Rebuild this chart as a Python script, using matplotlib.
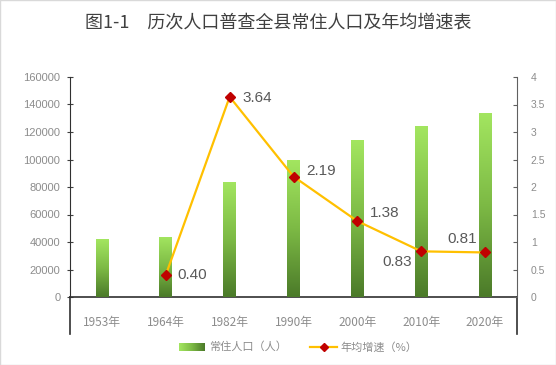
import numpy as np
import matplotlib
matplotlib.use('Agg')
import matplotlib.pyplot as plt
from matplotlib.colors import LinearSegmentedColormap
from matplotlib.patches import Rectangle

plt.rcParams['font.family'] = ['Noto Sans CJK SC', 'DejaVu Sans']

# data
years = ['1953年', '1964年', '1982年', '1990年', '2000年', '2010年', '2020年']
population = [42000, 44000, 84000, 100000, 114000, 124000, 134000]
growth_years = ['1964年', '1982年', '1990年', '2000年', '2010年', '2020年']
growth = [0.40, 3.64, 2.19, 1.38, 0.83, 0.81]
growth_labels = ['0.40', '3.64', '2.19', '1.38', '0.83', '0.81']

W, H = 556, 365
fig = plt.figure(figsize=(W / 100, H / 100), dpi=100)


def fx(x):
    return x / W


def fy(y):
    return 1 - y / H


ax = fig.add_axes([fx(70), fy(297), fx(517) - fx(70), fy(77) - fy(297)])
ax2 = ax.twinx()

green = LinearSegmentedColormap.from_list('g', ['#4b7a29', '#7dba45', '#a3e660'])
grad = np.linspace(0, 1, 256).reshape(-1, 1)

x = np.arange(len(years))
bars = ax.bar(x, population, width=0.2, color='#78b443', zorder=2)
for b in bars:
    im = ax.imshow(grad, cmap=green, origin='lower', aspect='auto',
                   extent=[b.get_x(), b.get_x() + b.get_width(), 0, b.get_height()],
                   zorder=3)
    im.set_clip_path(b)

ax.set_xlim(-0.5, len(years) - 0.5)
ax.set_ylim(0, 160000)
ax.set_yticks(np.arange(0, 160001, 20000))
ax.set_xticks(x)
ax.set_xticklabels(years, fontsize=8.5, color='#8c8c8c')
ax.tick_params(axis='x', length=0, pad=14)
ax.tick_params(axis='y', direction='inout', length=4, width=0.8, color='#404040',
               labelsize=8, labelcolor='#8c8c8c', pad=5)
for lab in ax.get_yticklabels():
    lab.set_family('Liberation Sans')
ax.spines['top'].set_visible(False)
ax.spines['right'].set_visible(False)
ax.spines['left'].set_color('#303030')
ax.spines['bottom'].set_color('#303030')
ax.spines['bottom'].set_linewidth(1.2)

# long category tick marks at both ends
for xx in (0, 1):
    ax.plot([xx, xx], [0, -37 / 220], transform=ax.transAxes, color='#303030',
            lw=1.2, clip_on=False)

xi = [years.index(y) for y in growth_years]
ax2.plot(xi, growth, color='#ffc000', lw=1.6, marker='D', markersize=5,
         markerfacecolor='#c00000', markeredgecolor='#c00000', zorder=5)
ax2.set_ylim(0, 4)
ax2.set_yticks(np.arange(0, 4.01, 0.5))
ax2.set_yticklabels(['%g' % v for v in np.arange(0, 4.01, 0.5)])
ax2.tick_params(axis='y', direction='in', length=3, width=0.8, color='#606060',
                labelsize=7.5, labelcolor='#8c8c8c', pad=10)
for lab in ax2.get_yticklabels():
    lab.set_family('Liberation Sans')
for s in ('top', 'left', 'bottom'):
    ax2.spines[s].set_visible(False)
ax2.spines['right'].set_color('#606060')

offsets = [(12, 0, 'left'), (13, -1, 'left'), (13, 6, 'left'),
           (27, 8, 'center'), (-24, -11, 'center'), (-23, 13, 'center')]
for xv, yv, txt, (dx, dy, ha) in zip(xi, growth, growth_labels, offsets):
    ax2.annotate(txt, (xv, yv), xytext=(dx, dy), textcoords='offset pixels',
                 ha=ha, va='center', fontsize=11, color='#595959',
                 family='Liberation Sans')

fig.text(fx(278), fy(22), '图1-1\u2002\u2002历次人口普查全县常住人口及年均增速表',
         ha='center', va='center', fontsize=13, color='#404040')

# legend drawn by hand
lg = fig.add_axes([fx(179), fy(351), fx(26), 8 / H])
lg.imshow(np.linspace(1, 0, 64).reshape(1, -1), cmap=green, aspect='auto')
lg.axis('off')
fig.text(fx(209), fy(347), '常住人口（人）', ha='left', va='center',
         fontsize=8, color='#8c8c8c')
fig.add_artist(plt.Line2D([fx(310), fx(337)], [fy(347), fy(347)], color='#ffc000',
                          lw=1.6))
fig.add_artist(plt.Line2D([fx(323.5)], [fy(347)], marker='D', markersize=4.5,
                          color='#c00000'))
fig.text(fx(340), fy(347), '年均增速（%）', ha='left', va='center',
         fontsize=8, color='#8c8c8c')

fig.patches.append(Rectangle((0, 0), 1, 1, transform=fig.transFigure, fill=False,
                             ec='#d9d9d9', lw=1))

fig.savefig('out.png', dpi=100)
